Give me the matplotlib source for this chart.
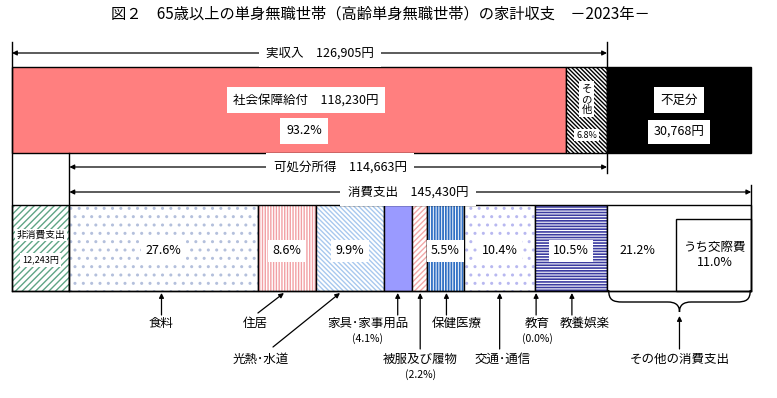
import matplotlib.pyplot as plt
from matplotlib.patches import Rectangle, PathPatch
from matplotlib.path import Path

plt.rcParams['font.family'] = ['Noto Sans CJK JP', 'DejaVu Sans']

TITLE = '図２　65歳以上の単身無職世帯（高齢単身無職世帯）の家計収支　－2023年－'

# income side (yen / month)
actual_income = 126905
social_security = 118230
social_share = 93.2
other_income_share = 6.8
shortage = 30768
disposable_income = 114663

# expenditure side
non_consumption = 12243
consumption = 145430
categories = ['食料', '住居', '光熱･水道', '家具･家事用品', '被服及び履物',
              '保健医療', '交通･通信', '教育', '教養娯楽', 'その他の消費支出']
shares = [27.6, 8.6, 9.9, 4.1, 2.2, 5.5, 10.4, 0.0, 10.5, 21.2]
entertainment_share = 11.0

# fill, hatch, hatch colour, hatch width, percent shown inside the bar
seg_styles = [
    ('white', '..', '#b4c0dc', 1.0, True),
    ('white', '|' * 6, '#f2a0a4', 1.0, True),
    ('white', '\\' * 7, '#a8c8ee', 1.0, True),
    ('#9a9aff', None, None, 1.0, False),
    ('white', '/' * 6, '#f2a8a8', 1.0, False),
    ('white', '|' * 6, '#2f6fc4', 1.3, True),
    ('white', '..', '#b8b8f0', 1.0, True),
    ('white', None, None, 1.0, False),
    ('white', '-' * 6, '#3c3ca0', 1.2, True),
    ('white', None, None, 1.0, True),
]

# label placement below the bar: tip dx, text dx, tail dx, row
label_layout = [
    (-2, 0, 0, 0),
    (-3, -29, -26, 0),
    (-10, -79, -67, 1),
    (0, -30, 0, 0),
    (1, 0, 0, 1),
    (1, 10, 0, 0),
    (0, 3, 0, 1),
    (1, 1, 0, 0),
    (1, 13, 0, 0),
]

X0, X1 = 12, 607
scale = (X1 - X0) / actual_income
TOP_Y, TOP_H = 67, 86
BOT_Y, BOT_H = 205, 86
ROW_TEXT = [323, 359]
ROW_TAIL = [315, 349]
FS = 9


def xpx(yen):
    return X0 + yen * scale


def box(ax, x, y, w, h, face, hatch=None, hcolor=None, hlw=1.0, edge=True):
    with plt.rc_context({'hatch.linewidth': hlw}):
        p = Rectangle((x, y), w, h, facecolor=face,
                      edgecolor=hcolor if hatch else 'none',
                      hatch=hatch, linewidth=0)
        if hatch and hasattr(p, 'set_hatch_linewidth'):
            p.set_hatch_linewidth(hlw)
        ax.add_patch(p)
    if edge:
        ax.add_patch(Rectangle((x, y), w, h, fill=False, edgecolor='black', linewidth=1.0))


def label(ax, x, y, s, fs=FS, pad=0.3, bg=True, **kw):
    bbox = dict(boxstyle=f'square,pad={pad}', facecolor='white', edgecolor='none') if bg else None
    ax.text(x, y, s, fontsize=fs, ha='center', va='center', bbox=bbox, zorder=5, **kw)


def arrow(ax, tail, tip, both=False):
    ax.annotate('', xy=tip, xytext=tail,
                arrowprops=dict(arrowstyle='<|-|>' if both else '-|>', color='black',
                                lw=0.9, mutation_scale=7, shrinkA=0, shrinkB=0), zorder=4)


def main():
    fig = plt.figure(figsize=(7.77, 3.98), dpi=100)
    ax = fig.add_axes([0, 0, 1, 1])
    ax.set_xlim(0, 777)
    ax.set_ylim(398, 0)
    ax.axis('off')

    ax.text(380, 14, TITLE, fontsize=11, ha='center', va='center')

    # ---- top bar: income + shortage
    ss_x1 = xpx(social_security)
    inc_x1 = xpx(actual_income)
    short_x1 = xpx(actual_income + shortage)
    box(ax, X0, TOP_Y, ss_x1 - X0, TOP_H, '#ff7f7f')
    box(ax, ss_x1, TOP_Y, inc_x1 - ss_x1, TOP_H, 'white', '\\' * 8, 'black', 1.0)
    box(ax, inc_x1, TOP_Y, short_x1 - inc_x1, TOP_H, 'black')

    label(ax, 306, 100, f'社会保障給付　{social_security:,}円', pad=0.5)
    label(ax, 304, 131, f'{social_share}%', pad=0.5)
    mid_other = (ss_x1 + inc_x1) / 2
    label(ax, mid_other, 99, 'そ\nの\n他', fs=7.5, pad=0.25, linespacing=1.05)
    label(ax, mid_other, 135, f'{other_income_share}%', fs=6.5, pad=0.2)
    mid_short = (inc_x1 + short_x1) / 2
    label(ax, mid_short, 100, '不足分', pad=0.5)
    label(ax, mid_short, 132, f'{shortage:,}円', pad=0.45)

    # ---- bottom bar: non-consumption + consumption breakdown
    nc_x1 = xpx(non_consumption)
    box(ax, X0, BOT_Y, nc_x1 - X0, BOT_H, 'white', '/' * 5, '#5fa585', 1.0)
    label(ax, (X0 + nc_x1) / 2, 235, '非消費支出', fs=7, pad=0.15)
    label(ax, (X0 + nc_x1) / 2, 260, f'{non_consumption:,}円', fs=6.5, pad=0.25)

    cons_scale = consumption * scale / 100.0
    edges = [nc_x1]
    for s in shares:
        edges.append(edges[-1] + s * cons_scale)
    cons_x1 = edges[-1]

    for i, (s, st) in enumerate(zip(shares, seg_styles)):
        face, hatch, hc, hlw, inside = st
        x0, x1 = edges[i], edges[i + 1]
        if x1 - x0 > 0:
            box(ax, x0, BOT_Y, x1 - x0, BOT_H, face, hatch, hc, hlw)
        if inside and i < len(shares) - 1:
            label(ax, (x0 + x1) / 2, 251, f'{s}%', pad=0.35)

    # その他 with inner うち交際費 box
    ent_x0 = cons_x1 - entertainment_share * cons_scale
    ax.add_patch(Rectangle((ent_x0, 219), cons_x1 - ent_x0, BOT_Y + BOT_H - 219,
                           fill=False, edgecolor='black', linewidth=1.0))
    label(ax, (edges[-2] + ent_x0) / 2 - 4, 251, f'{shares[-1]}%', bg=False)
    label(ax, (ent_x0 + cons_x1) / 2 + 1, 247, 'うち交際費', bg=False)
    label(ax, (ent_x0 + cons_x1) / 2 + 1, 262, f'{entertainment_share}%', bg=False)

    # ---- guide lines
    ax.plot([X0, X0], [42, BOT_Y + BOT_H], color='black', lw=1.0)
    ax.plot([inc_x1, inc_x1], [42, 173], color='black', lw=1.0)
    ax.plot([nc_x1, nc_x1], [TOP_Y + TOP_H, BOT_Y + BOT_H], color='black', lw=1.0)
    ax.plot([cons_x1, cons_x1], [185, BOT_Y + BOT_H], color='black', lw=1.0)
    ax.plot([X0, cons_x1], [BOT_Y + BOT_H, BOT_Y + BOT_H], color='black', lw=1.0)

    # ---- range arrows
    arrow(ax, (X0, 53), (inc_x1, 53), both=True)
    label(ax, 320, 53, f'実収入　{actual_income:,}円', pad=0.6)
    disp_x0 = inc_x1 - disposable_income * scale
    arrow(ax, (disp_x0, 167), (inc_x1, 167), both=True)
    label(ax, 340, 167, f'可処分所得　{disposable_income:,}円', pad=0.6)
    arrow(ax, (nc_x1, 192), (cons_x1, 192), both=True)
    label(ax, 408, 192, f'消費支出　{consumption:,}円', pad=0.6)

    # ---- category labels below the bar
    bar_bottom = BOT_Y + BOT_H + 2
    for i, (tip_dx, text_dx, tail_dx, row) in enumerate(label_layout):
        cx = (edges[i] + edges[i + 1]) / 2 + tip_dx
        ty = ROW_TEXT[row]
        tail_y = ROW_TAIL[row] - (2 if tail_dx else 0)
        arrow(ax, (cx + tail_dx, tail_y), (cx, bar_bottom))
        label(ax, cx + text_dx, ty, categories[i], bg=False)
        if not seg_styles[i][4]:
            label(ax, cx + text_dx, ty + 16, f'({shares[i]}%)', fs=7.5, bg=False)

    # brace under その他の消費支出
    L, R = edges[-2] + 2, cons_x1 - 1
    cx = (L + R) / 2
    top, mid, tip = BOT_Y + BOT_H - 1, 302, 312
    verts = [(L, top), (L, mid - 2), (L + 4, mid), (L + 14, mid),
             (cx - 12, mid),
             (cx - 4, mid), (cx, mid + 3), (cx, tip),
             (cx, mid + 3), (cx + 4, mid), (cx + 12, mid),
             (R - 14, mid),
             (R - 4, mid), (R, mid - 2), (R, top)]
    codes = [Path.MOVETO, Path.CURVE4, Path.CURVE4, Path.CURVE4,
             Path.LINETO,
             Path.CURVE4, Path.CURVE4, Path.CURVE4,
             Path.CURVE4, Path.CURVE4, Path.CURVE4,
             Path.LINETO,
             Path.CURVE4, Path.CURVE4, Path.CURVE4]
    ax.add_patch(PathPatch(Path(verts, codes), fill=False, edgecolor='black', lw=1.0))
    arrow(ax, (cx, ROW_TAIL[1]), (cx, tip + 4))
    label(ax, cx, ROW_TEXT[1], categories[-1], bg=False)

    fig.savefig('out.png', dpi=100)


if __name__ == '__main__':
    main()
